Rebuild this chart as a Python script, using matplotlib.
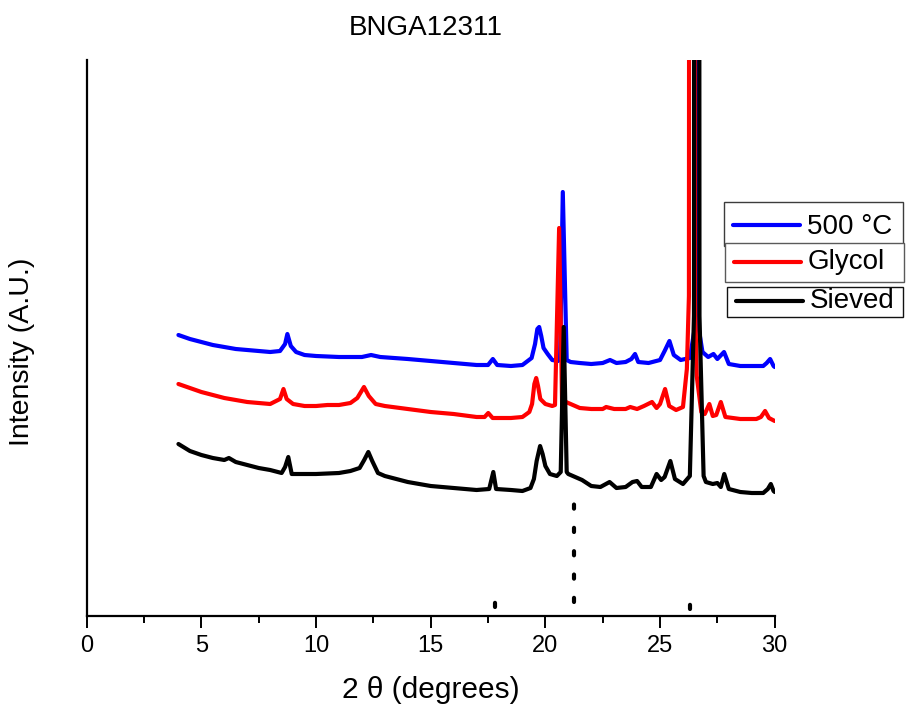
import matplotlib
matplotlib.use("Agg")
import matplotlib.pyplot as plt
from matplotlib.lines import Line2D
from matplotlib.patches import Rectangle

plt.rcParams['font.family'] = ['Liberation Sans', 'DejaVu Sans']

# 2-theta positions and intensities (arbitrary units, stacked traces)
x_500 = [4.0, 4.5, 5.0, 5.5, 6.0, 6.5, 7.0, 7.5, 8.0, 8.43, 8.65, 8.75, 8.9,
         9.13, 9.5, 10.0, 11.0, 12.0, 12.4, 12.8, 14.0, 15.0, 16.0, 17.0,
         17.5, 17.71, 17.9, 18.5, 19.0, 19.4, 19.55, 19.65, 19.73, 19.82,
         19.92, 20.1, 20.3, 20.55, 20.64, 20.76, 20.93, 21.1, 21.5, 22.0,
         22.5, 22.82, 23.1, 23.5, 23.75, 23.91, 24.05, 24.5, 25.0, 25.2,
         25.41, 25.6, 25.9, 26.3, 26.53, 26.6, 26.67, 26.85, 27.1, 27.33,
         27.5, 27.79, 28.0, 28.5, 29.0, 29.5, 29.65, 29.8, 29.95, 30.0]
y_500 = [281, 277, 274, 271, 269, 267, 266, 265, 264, 265, 272, 282, 270,
         264, 261, 260, 259, 259, 261, 259, 257, 255, 253, 251,
         251, 257, 251, 250, 251, 258, 272, 287, 289, 280,
         268, 262, 256, 255, 257, 424, 256, 254, 253, 252,
         253, 256, 253, 254, 257, 262, 254, 253, 256, 265,
         275, 261, 256, 258, 290, 6000, 290, 264, 259, 262,
         257, 264, 252, 250, 250, 250, 253, 257, 250, 249]

x_glycol = [4.0, 4.5, 5.0, 5.5, 6.0, 6.5, 7.0, 7.5, 8.0, 8.43, 8.58, 8.72,
            9.0, 9.5, 10.0, 10.5, 11.0, 11.5, 11.8, 12.09, 12.3, 12.6, 13.0,
            14.0, 15.0, 16.0, 17.0, 17.35, 17.51, 17.7, 18.5, 19.0, 19.3,
            19.42, 19.52, 19.6, 19.68, 19.78, 20.0, 20.3, 20.42, 20.6, 20.73,
            20.9, 21.2, 21.5, 22.0, 22.5, 22.65, 23.0, 23.5, 23.7, 24.0, 24.3,
            24.65, 24.85, 25.0, 25.22, 25.4, 25.7, 26.0, 26.17, 26.26, 26.39,
            26.52, 26.6, 26.8, 26.95, 27.15, 27.3, 27.45, 27.65, 27.85, 28.5,
            29.2, 29.4, 29.58, 29.75, 30.0]
y_glycol = [232, 228, 224, 221, 218, 216, 214, 213, 212, 217, 227, 217,
            212, 210, 210, 211, 211, 213, 218, 229, 220, 212, 210,
            207, 204, 202, 199, 199, 203, 198, 198, 199, 204,
            212, 232, 238, 230, 217, 212, 210, 211, 388, 212,
            214, 211, 208, 207, 207, 209, 207, 207, 209, 207, 210,
            214, 208, 212, 227, 210, 206, 209, 247, 320, 6000,
            320, 240, 204, 202, 212, 200, 201, 214, 199, 197,
            197, 199, 205, 198, 195]

x_sieved = [4.0, 4.5, 5.0, 5.5, 6.0, 6.2, 6.5, 7.0, 7.5, 8.0, 8.5, 8.65, 8.79,
            8.94, 9.1, 10.0, 11.0, 11.5, 11.9, 12.1, 12.28, 12.45, 12.7, 13.0,
            14.0, 15.0, 16.0, 17.0, 17.55, 17.73, 17.85, 18.5, 19.0, 19.35,
            19.5, 19.62, 19.77, 19.88, 20.0, 20.2, 20.5, 20.67, 20.8, 20.93,
            21.0, 21.3, 21.6, 22.0, 22.4, 22.8, 23.1, 23.5, 23.8, 24.0, 24.2,
            24.6, 24.85, 25.05, 25.2, 25.45, 25.65, 26.0, 26.3, 26.48, 26.6,
            26.72, 26.9, 27.0, 27.3, 27.5, 27.65, 27.8, 28.0, 28.5, 29.0,
            29.5, 29.7, 29.83, 29.95, 30.0]
y_sieved = [172, 165, 161, 158, 156, 158, 154, 151, 148, 146, 143, 149, 159,
            142, 142, 142, 143, 145, 148, 156, 164, 155, 143, 140,
            134, 130, 128, 126, 127, 144, 127, 126, 125, 128,
            137, 155, 170, 162, 150, 142, 140, 144, 289, 144,
            142, 139, 136, 130, 129, 134, 128, 129, 134, 135, 129,
            129, 142, 136, 139, 155, 137, 132, 140, 300, 6000,
            300, 140, 134, 132, 133, 129, 142, 127, 124, 123,
            123, 127, 132, 125, 124]

# Reference peak markers (position, lower and upper extent)
ref_pos = [17.8, 21.24, 26.31]
ref_low = [9.5, 14.5, 7.5]
ref_high = [14.5, 114.0, 12.5]

labels = ["500 \u00b0C", "Glycol", "Sieved"]
colors = ["#0000ff", "#ff0000", "#000000"]
xs_all = [x_500, x_glycol, x_sieved]
ys_all = [y_500, y_glycol, y_sieved]

fig = plt.figure(figsize=(9.06, 7.12), dpi=100)
W, H = 906, 712
ax = fig.add_axes([86.7 / W, 1 - 616 / H, 688 / W, 556 / H])

for xs, ys, color in zip(xs_all, ys_all, colors):
    ax.plot(xs, ys, color=color, lw=3.0, solid_joinstyle='round',
            solid_capstyle='round', zorder=3)

for p, lo, hi in zip(ref_pos, ref_low, ref_high):
    ax.plot([p, p], [lo, hi], color='black', lw=3.0,
            linestyle=(0, (1.0, 4.6)), dash_capstyle='round', zorder=2)

ax.set_xlim(0, 30)
ax.set_ylim(0, 556)
ax.set_xticks([0, 5, 10, 15, 20, 25, 30])
ax.set_xticks([2.5, 7.5, 12.5, 17.5, 22.5, 27.5], minor=True)
ax.set_yticks([])
ax.tick_params(axis='x', which='major', direction='out', length=8.5, width=1.4,
               labelsize=17, pad=5)
ax.tick_params(axis='x', which='minor', direction='out', length=5, width=1.4)
for side in ('top', 'right'):
    ax.spines[side].set_visible(False)
for side in ('left', 'bottom'):
    ax.spines[side].set_linewidth(1.6)

ax.set_xlabel("2 \u03b8 (degrees)", fontsize=21.5, labelpad=14)
ax.set_ylabel("Intensity (A.U.)", fontsize=20.5)
ax.yaxis.set_label_coords(-0.075, 0.475)
ax.set_title("BNGA12311", fontsize=20, pad=18, x=0.493)

# Stacked single-entry key boxes on the right
box_left = [724, 725, 727]
box_top = [202, 243, 287]
box_right = [903, 904, 903]
box_bottom = [246, 282, 317]
edge_colors = ['#3c3c3c', '#5a5a5a', '#111111']
line_y = [225, 261.5, 301]
text_base = [234.5, 269, 308.5]
for i in range(3):
    fig.add_artist(Rectangle((box_left[i] / W, 1 - box_bottom[i] / H),
                             (box_right[i] - box_left[i]) / W,
                             (box_bottom[i] - box_top[i]) / H,
                             transform=fig.transFigure, facecolor='white',
                             edgecolor=edge_colors[i], lw=1.0, zorder=5))
    fig.add_artist(Line2D([(box_left[i] + 9) / W, (box_left[i] + 76) / W],
                          [1 - line_y[i] / H] * 2, transform=fig.transFigure,
                          color=colors[i], lw=3.0, solid_capstyle='round',
                          zorder=6))
    fig.text((box_left[i] + 83) / W, 1 - text_base[i] / H, labels[i],
             fontsize=20, ha='left', va='baseline', zorder=6)

fig.savefig("out.png", dpi=100)
